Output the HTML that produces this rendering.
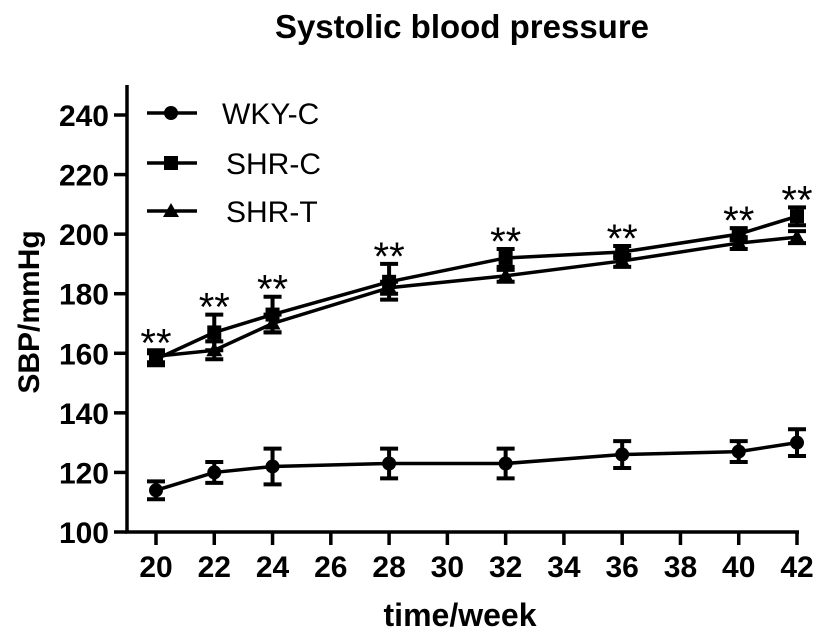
<!DOCTYPE html>
<html><head><meta charset="utf-8"><style>
body{margin:0;background:#fff}
svg text{font-family:"Liberation Sans",Arial,sans-serif}
</style></head><body>
<svg id="chart" width="827" height="633" viewBox="0 0 827 633" xmlns="http://www.w3.org/2000/svg">
<text x="462" y="38" text-anchor="middle" font-size="33" font-weight="bold">Systolic blood pressure</text>
<text transform="translate(39,312) rotate(-90)" text-anchor="middle" font-size="30" font-weight="bold">SBP/mmHg</text>
<text x="460" y="626" text-anchor="middle" font-size="32" font-weight="bold">time/week</text>
<g id="axes"></g>
<g id="series"></g>
<g id="legend"></g>
</svg>
<script>
const weeks=[20,22,24,28,32,36,40,42];
const xTicks=[20,22,24,26,28,30,32,34,36,38,40,42];
const yTicks=[100,120,140,160,180,200,220,240];
const wkyMean=[114,120,122,123,123,126,127,130];
const wkyErr=[3,3.5,6,5,5,4.5,3.5,4.5];
const shrcMean=[158,167,173,184,192,194,200,206];
const shrcErr=[2,6,6,6,3,2,2,3];
const shrtMean=[159,161,170,182,186,191,197,199];
const shrtErr=[2,3,3,2,2,2,2,2];
const seriesNames=["WKY-C","SHR-C","SHR-T"];

const NS="http://www.w3.org/2000/svg";
const x=v=>156+(v-20)*(797-156)/22;
const y=v=>532-(v-100)*(532-115)/140;
function mk(tag,attrs,parent){const e=document.createElementNS(NS,tag);for(const k in attrs)e.setAttribute(k,attrs[k]);parent.appendChild(e);return e;}
const axes=document.getElementById('axes');
let a=mk('path',{d:`M127 85 V532 H799`,stroke:'#000','stroke-width':3.5,fill:'none'},axes);


yTicks.forEach(v=>{
  let t=mk('line',{x1:114,x2:127,y1:y(v),y2:y(v),stroke:'#000','stroke-width':3.5},axes);
  
  
  let l=mk('text',{x:109,y:y(v)+11,'text-anchor':'end','font-size':30,'font-weight':'bold'},axes);l.textContent=v;
  
  
});
xTicks.forEach(v=>{
  let t=mk('line',{x1:x(v),x2:x(v),y1:532,y2:545,stroke:'#000','stroke-width':3.5},axes);
  
  
  let l=mk('text',{x:x(v),y:577,'text-anchor':'middle','font-size':30,'font-weight':'bold'},axes);l.textContent=v;
  
  
});
const S=document.getElementById('series');
function marker(type,cx,cy,g){
  if(type===0)return mk('circle',{cx,cy,r:7,fill:'#000'},g);
  if(type===1)return mk('rect',{x:cx-7,y:cy-7,width:14,height:14,fill:'#000'},g);
  return mk('path',{d:`M${cx} ${cy-8} L${cx+8} ${cy+6} L${cx-8} ${cy+6}Z`,fill:'#000'},g);
}
function drawSeries(means,errs,type,name){
  const g=mk('g',{},S);
  
  
  let p=mk('polyline',{points:weeks.map((w,i)=>x(w)+','+y(means[i])).join(' '),fill:'none',stroke:'#000','stroke-width':3.5},g);
  
  
  weeks.forEach((w,i)=>{
    const cx=x(w),t=y(means[i]+errs[i]),b=y(means[i]-errs[i]);
    let e=mk('path',{d:`M${cx} ${t} V${b} M${cx-9} ${t} H${cx+9} M${cx-9} ${b} H${cx+9}`,stroke:'#000','stroke-width':4,fill:'none'},g);
    
    
    let m=marker(type,cx,y(means[i]),g);
    
    
  });
}
drawSeries(wkyMean,wkyErr,0,'wky-c');
drawSeries(shrcMean,shrcErr,1,'shr-c');
drawSeries(shrtMean,shrtErr,2,'shr-t');
weeks.forEach((w,i)=>{
  const top=Math.max(shrcMean[i]+shrcErr[i],shrtMean[i]+shrtErr[i]);
  let s=mk('text',{x:x(w),y:y(top)+6,'text-anchor':'middle','font-size':40},S);s.textContent='**';
  
  
});
const L=document.getElementById('legend');
const ly=[113,163,211];
seriesNames.forEach((n,i)=>{
  const g=mk('g',{},L);
  
  
  mk('line',{x1:147,x2:197,y1:ly[i],y2:ly[i],stroke:'#000','stroke-width':3.5},g);
  marker(i,171,ly[i],g);
  let t=mk('text',{x:i===0?222:226,y:ly[i]+11,'font-size':30},g);t.textContent=n;
});
</script>
</body></html>
